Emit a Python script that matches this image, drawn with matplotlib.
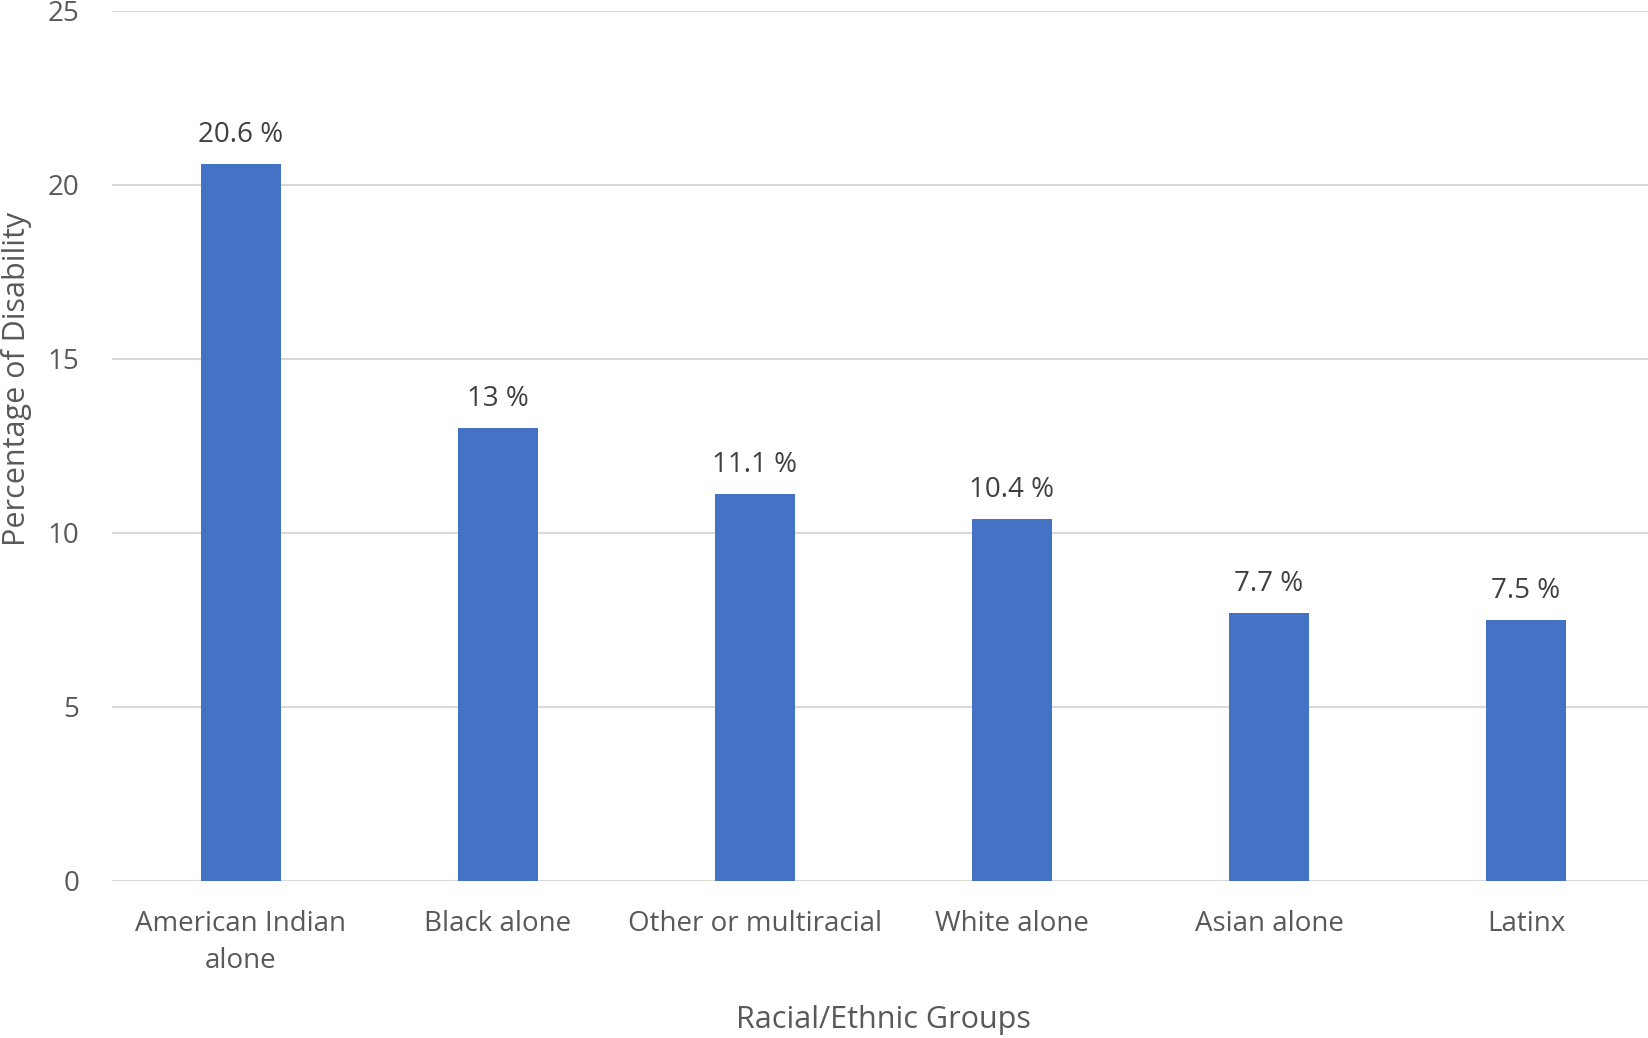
import matplotlib
matplotlib.use("Agg")
import matplotlib.pyplot as plt
import numpy as np

groups = ["American Indian\nalone", "Black alone", "Other or multiracial",
          "White alone", "Asian alone", "Latinx"]
disability_pct = [20.6, 13, 11.1, 10.4, 7.7, 7.5]
pct_labels = ["20.6 %", "13 %", "11.1 %", "10.4 %", "7.7 %", "7.5 %"]
y_ticks = [0, 5, 10, 15, 20, 25]

plt.rcParams['font.family'] = ['Open Sans', 'DejaVu Sans']

W, H = 1649, 1038
fig = plt.figure(figsize=(W / 100, H / 100), dpi=100)
# axes box in pixel terms: left 112.5, right 1654.5, bottom 880.7, top 10.7
ax = fig.add_axes([112.5 / W, 1 - 880.7 / H, (1654.5 - 112.5) / W, (880.7 - 10.7) / H])

x = np.arange(len(groups))
ax.bar(x, disability_pct, width=0.314, color="#4472C4", zorder=3)

for xi, val, lab in zip(x, disability_pct, pct_labels):
    ax.annotate(lab, (xi, val), xytext=(0, 21), textcoords="offset points",
                ha="center", va="center", fontsize=20, color="#404040")

ax.set_xlim(-0.5, len(groups) - 0.5)
ax.set_ylim(0, 25)
ax.set_yticks(y_ticks)
ax.set_xticks(x)
ax.set_xticklabels(groups, fontsize=20, color="#595959", linespacing=1.45)
ax.tick_params(axis="y", labelsize=20, labelcolor="#595959", length=0, pad=24)
ax.tick_params(axis="x", length=0, pad=21)

ax.grid(axis="y", color="#d9d9d9", linewidth=1.5, zorder=0)
for s in ax.spines.values():
    s.set_visible(False)

fig.text(883 / W, 1 - 1020 / H, "Racial/Ethnic Groups", ha="center", va="center",
         fontsize=22, color="#595959")
fig.text(17 / W, 1 - 379 / H, "Percentage of Disability", ha="center", va="center",
         rotation=90, fontsize=22, color="#595959")

fig.savefig("out.png", dpi=100)
